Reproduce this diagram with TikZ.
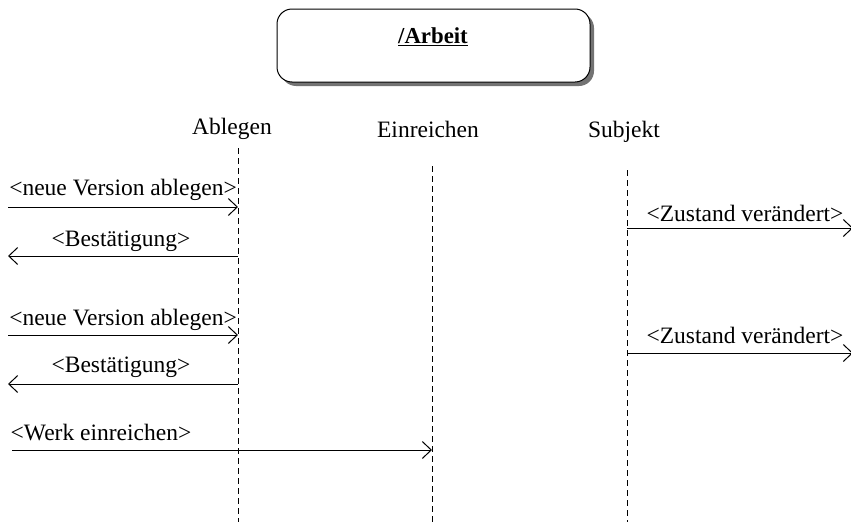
\documentclass[tikz,border=0pt]{standalone}
\usepackage{fontspec}
\setmainfont{Liberation Serif}
\usetikzlibrary{arrows.meta,shadows}
\begin{document}
\begin{tikzpicture}[x=1pt,y=-1pt,
  lbl/.style={font=\fontsize{23.5}{26}\selectfont, inner sep=0pt},
  lifeline/.style={line width=0.9pt, dash pattern=on 6pt off 4pt},
  msg/.style={line width=1pt, -{Straight Barb[length=9pt,width=17pt,line width=1pt]}},
  classbox/.style={draw, line width=1pt, rounded corners=15pt, fill=white,
    minimum width=313pt, minimum height=73pt,
    drop shadow={shadow xshift=4pt, shadow yshift=-4pt, fill=black!55, opacity=1}}]
\useasboundingbox (0,0) rectangle (851,525);
\clip (0,0) rectangle (851,525);

% object box
\node[classbox] (obj) at (433.5,45.5) {};
\node[lbl, font=\fontsize{22.8}{25}\selectfont\bfseries] (title) at (433,37) {\underline{/Arbeit}};

% lifeline heads
\node[lbl] (abl) at (232,129) {Ablegen};
\node[lbl] (ein) at (428,129) {Einreichen};
\node[lbl] (sub) at (624,132) {Subjekt};

% lifelines
\coordinate (ablTop) at (238,148);  \coordinate (ablEnd) at (238,522);
\coordinate (einTop) at (432,166);  \coordinate (einEnd) at (432,522);
\coordinate (subTop) at (627,170);  \coordinate (subEnd) at (627,522);
\draw[lifeline] (ablTop) -- (ablEnd);
\draw[lifeline] (einTop) -- (einEnd);
\draw[lifeline] (subTop) -- (subEnd);

% message end points
\coordinate (m1a) at (8,207);   \coordinate (m1b) at (238,207);
\coordinate (m2a) at (238,256); \coordinate (m2b) at (8,256);
\coordinate (m3a) at (8,335);   \coordinate (m3b) at (238,335);
\coordinate (m4a) at (238,384); \coordinate (m4b) at (8,384);
\coordinate (m5a) at (12,450);  \coordinate (m5b) at (432,450);
\coordinate (m6a) at (627,228); \coordinate (m6b) at (853,228);
\coordinate (m7a) at (627,353); \coordinate (m7b) at (853,353);

% messages
\draw[msg] (m1a) -- (m1b);
\node[lbl] (l1) at (123,190) {<neue Version ablegen>};
\draw[msg] (m2a) -- (m2b);
\node[lbl] (l2) at (121,241) {<Bestätigung>};
\draw[msg] (m3a) -- (m3b);
\node[lbl] (l3) at (123,320) {<neue Version ablegen>};
\draw[msg] (m4a) -- (m4b);
\node[lbl] (l4) at (121,367) {<Bestätigung>};
\draw[msg] (m5a) -- (m5b);
\node[lbl] (l5) at (101,433) {<Werk einreichen>};
\draw[msg] (m6a) -- (m6b);
\node[lbl] (l6) at (745,213) {<Zustand verändert>};
\draw[msg] (m7a) -- (m7b);
\node[lbl] (l7) at (745,335) {<Zustand verändert>};
\end{tikzpicture}
\end{document}
